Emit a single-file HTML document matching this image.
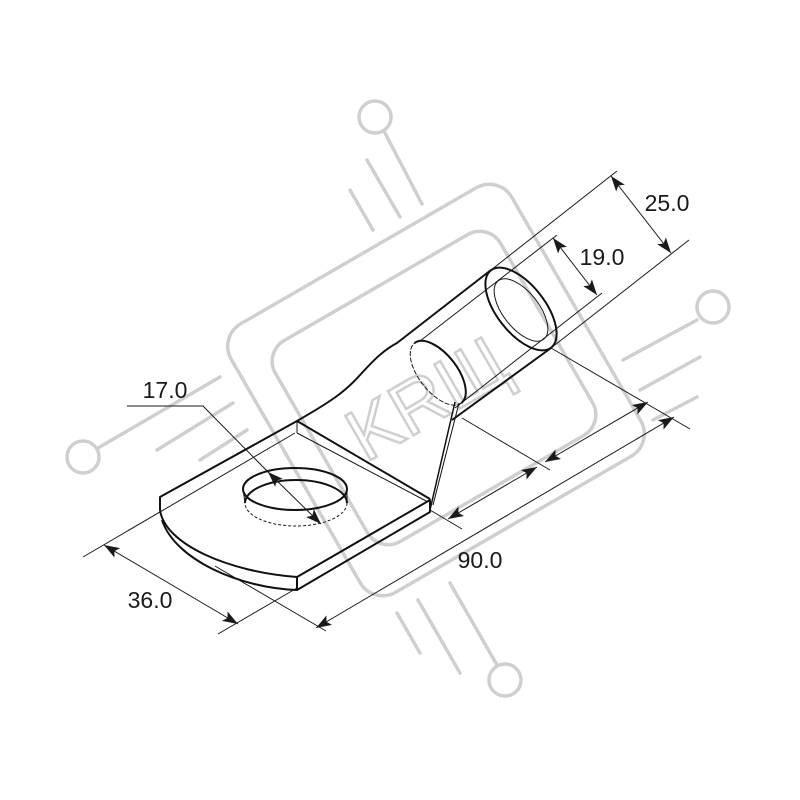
<!DOCTYPE html>
<html><head><meta charset="utf-8"><style>
html,body{margin:0;padding:0;background:#fff;}
svg{display:block;}
text{font-family:"Liberation Sans",Arial,sans-serif;fill:#1a1a1a;}
</style></head><body>
<svg width="800" height="800" viewBox="0 0 800 800" xmlns="http://www.w3.org/2000/svg">
<defs>
<marker id="ah" viewBox="0 0 14 10" refX="14" refY="5" markerWidth="16" markerHeight="11" markerUnits="userSpaceOnUse" orient="auto-start-reverse">
<path d="M0,0 L14,5 L0,10 L3,5 Z" fill="#1a1a1a"/>
</marker>
</defs>
<rect width="800" height="800" fill="#fff"/>
<!-- watermark -->
<g fill="none" stroke="#cfcfcf" stroke-width="3.5" stroke-linecap="round">
<rect x="-162" y="-155" width="324" height="310" rx="26" transform="translate(436,390) rotate(-30)"/>
<rect x="-130" y="-116" width="260" height="232" rx="24" transform="translate(434,388) rotate(-30)"/>
<circle cx="375" cy="117" r="16"/>
<line x1="385" y1="133" x2="422" y2="204"/>
<line x1="367" y1="160" x2="400" y2="217"/>
<line x1="350" y1="190" x2="373" y2="230"/>
<circle cx="83" cy="457" r="16"/>
<line x1="98" y1="448" x2="220" y2="377"/>
<line x1="157" y1="450" x2="233" y2="403"/>
<line x1="200" y1="460" x2="247" y2="430"/>
<circle cx="713" cy="307" r="16"/>
<line x1="697" y1="320" x2="623" y2="360"/>
<line x1="700" y1="357" x2="640" y2="390"/>
<line x1="697" y1="397" x2="653" y2="420"/>
<circle cx="505" cy="680" r="16"/>
<line x1="497" y1="665" x2="450" y2="583"/>
<line x1="460" y1="673" x2="418" y2="600"/>
<line x1="420" y1="653" x2="397" y2="613"/>
</g>
<text x="0" y="0" font-size="74" fill="none" stroke="#cfcfcf" stroke-width="2.5" style="fill:none" text-anchor="middle" transform="translate(440,420) rotate(-30)">KRЩ</text>

<!-- thin lines -->
<g stroke="#1a1a1a" stroke-width="1" fill="none">
<line x1="617" y1="171" x2="491" y2="270"/>
<line x1="689" y1="240" x2="551" y2="348"/>
<line x1="557" y1="235" x2="420" y2="341"/>
<line x1="602" y1="293" x2="455" y2="408"/>
<line x1="551" y1="348" x2="690" y2="429"/>
<line x1="462" y1="418" x2="550" y2="470"/>
<line x1="430" y1="510" x2="462" y2="529"/>
<line x1="215" y1="566" x2="326" y2="631"/>
<line x1="83" y1="557" x2="295" y2="433"/>
<line x1="218" y1="634" x2="297" y2="588"/>
<line x1="297" y1="433" x2="428" y2="502"/>
<line x1="297" y1="421" x2="297" y2="433"/>
<line x1="611" y1="176" x2="671" y2="253" marker-start="url(#ah)" marker-end="url(#ah)"/>
<line x1="553" y1="238" x2="597" y2="295" marker-start="url(#ah)" marker-end="url(#ah)"/>
<line x1="448" y1="519" x2="537" y2="467" marker-start="url(#ah)" marker-end="url(#ah)"/>
<line x1="545" y1="462" x2="648" y2="402" marker-start="url(#ah)" marker-end="url(#ah)"/>
<line x1="316" y1="628" x2="674" y2="417" marker-start="url(#ah)" marker-end="url(#ah)"/>
<line x1="104" y1="545" x2="238" y2="624" marker-start="url(#ah)" marker-end="url(#ah)"/>
<polyline points="127,406 203,406 270,474"/>
<line x1="268" y1="472" x2="321" y2="524" marker-start="url(#ah)" marker-end="url(#ah)"/>
<ellipse cx="438" cy="373" rx="19" ry="38" transform="rotate(-38 438 373)" stroke-dasharray="5 1.5"/>
<ellipse cx="521" cy="310" rx="18" ry="37" transform="rotate(-38 521 310)"/>
<ellipse cx="296" cy="503" rx="51" ry="23" stroke-dasharray="3 2"/>
</g>

<!-- thick outline -->
<g stroke="#111" stroke-width="2" fill="none" stroke-linejoin="round">
<ellipse cx="521" cy="309" rx="24" ry="49" transform="rotate(-38 521 309)"/>
<path d="M0,-38 A19,38 0 0 1 0,38" transform="translate(438,373) rotate(-38)"/>
<path d="M491,270 L397,343 C382,351 372,362 360,375 C345,392 330,402 297,421 L160,497 L160,510"/>
<path d="M297,421 L430,499"/>
<path d="M551,348 L452,420"/>
<path d="M455,402 L430,510" stroke-width="1.5"/>
<path d="M459,403 L433,505" stroke-width="1"/>
<path d="M160,510 C165,545 230,572 297,577 L430,500 L430,512 L297,590 L297,577"/>
<path d="M162,520 C175,560 240,588 297,590"/>
<ellipse cx="295" cy="489" rx="52" ry="21"/>
<path d="M245,503 A51,23 0 0 1 347,503"/>
<line x1="243" y1="489" x2="245" y2="503" stroke-width="1"/>
<line x1="347" y1="489" x2="347" y2="503" stroke-width="1"/>
</g>

<text x="667" y="211" font-size="23" text-anchor="middle">25.0</text>
<text x="602" y="265" font-size="23" text-anchor="middle">19.0</text>
<text x="165" y="398" font-size="23" text-anchor="middle">17.0</text>
<text x="480" y="568" font-size="23" text-anchor="middle">90.0</text>
<text x="150" y="608" font-size="23" text-anchor="middle">36.0</text>
</svg>
</body></html>
